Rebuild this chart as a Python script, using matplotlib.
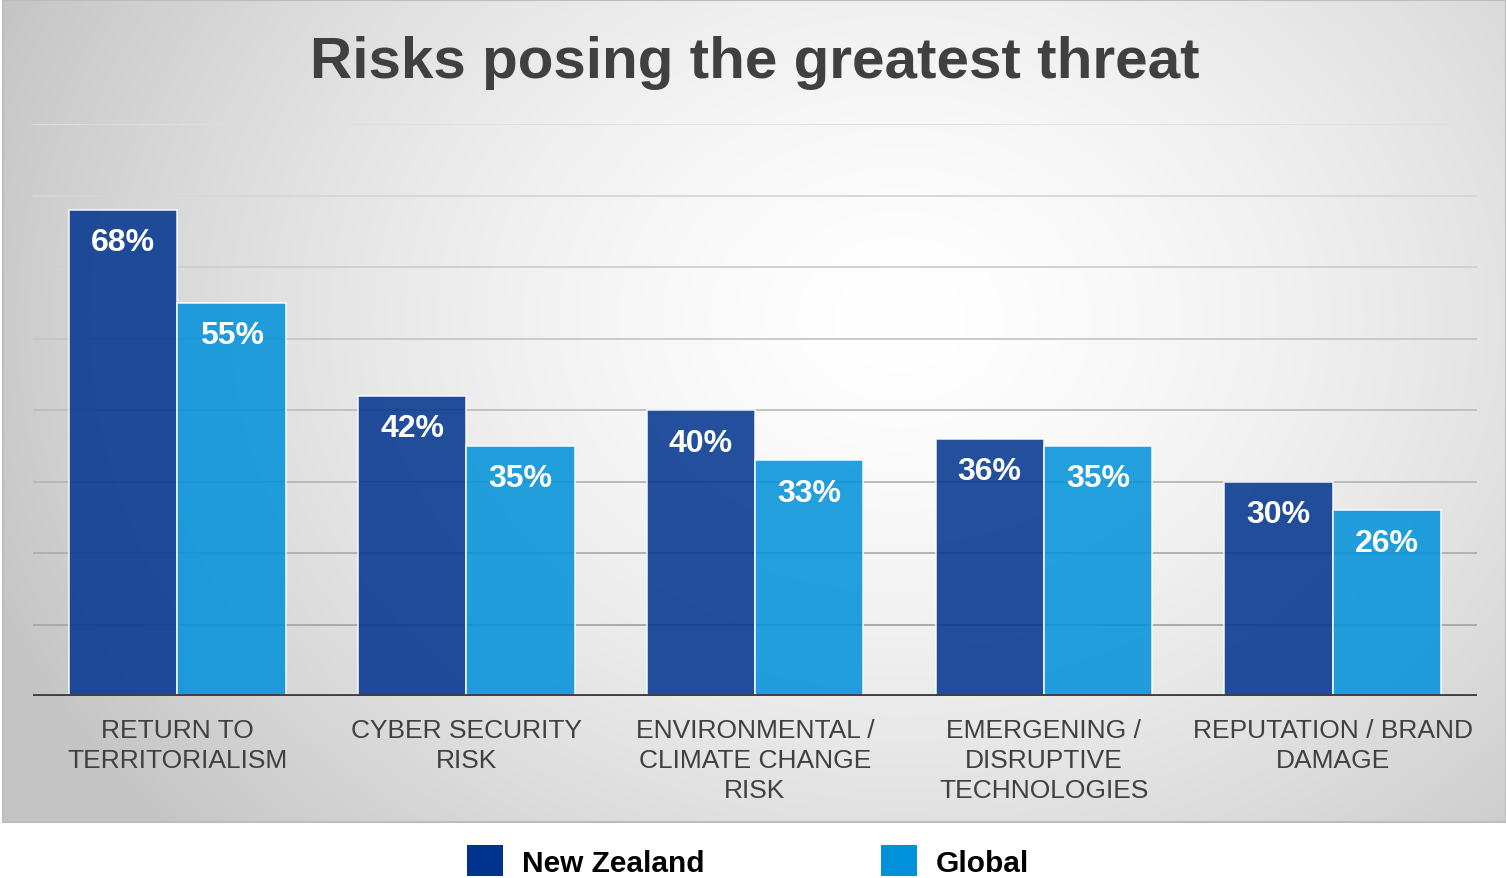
import matplotlib
matplotlib.use("Agg")
import matplotlib.pyplot as plt
import numpy as np
from matplotlib.patches import Patch, Rectangle

# ── Data ──
categories = [
    "RETURN TO\nTERRITORIALISM",
    "CYBER SECURITY\nRISK",
    "ENVIRONMENTAL /\nCLIMATE CHANGE\nRISK",
    "EMERGENING /\nDISRUPTIVE\nTECHNOLOGIES",
    "REPUTATION / BRAND\nDAMAGE",
]
nz_values = [68, 42, 40, 36, 30]
global_values = [55, 35, 33, 35, 26]
series_names = ["New Zealand", "Global"]
y_ticks = [0, 10, 20, 30, 40, 50, 60, 70, 80]

# ── Style ──
NZ_BLUE = "#00338d"
GLOBAL_BLUE = "#0091da"
DARK_TEXT = "#404040"
FONT = "Liberation Sans"

W, H = 1506, 879
fig = plt.figure(figsize=(W / 100, H / 100), dpi=100)
fig.patch.set_facecolor("white")

# gradient panel behind the chart
bg = fig.add_axes([0, 0, 1, 1], zorder=-1)
bg.set_xlim(0, W)
bg.set_ylim(H, 0)
bg.axis("off")
xs = np.arange(3, W)
ys = np.arange(0, 823)
gx, gy = np.meshgrid(xs, ys)
r = np.sqrt(((gx - 900) / 750.0) ** 2 + ((gy - 320) / 600.0) ** 2)
shade = 255 - 58 * np.clip(r / 1.3, 0, 1) ** 1.5
img = np.dstack([shade, shade, shade]).astype(np.uint8)
bg.imshow(img, extent=(3, W, 823, 0), aspect="auto", interpolation="bilinear")
bg.add_patch(Rectangle((3, 0.5), W - 3, 822.5, fill=False, edgecolor="#bdbdbd", linewidth=1.5))

# main axes
left, right, top, bottom = 33, 1477, 125, 697
ax = fig.add_axes([left / W, 1 - bottom / H, (right - left) / W, (bottom - top) / H])
ax.set_facecolor("none")

x = np.arange(len(categories))
bw = 0.375
bars_nz = ax.bar(x - bw / 2, nz_values, bw, color=NZ_BLUE, alpha=0.86,
                 edgecolor=(1, 1, 1, 0.3), linewidth=1.2, zorder=3)
bars_gl = ax.bar(x + bw / 2, global_values, bw, color=GLOBAL_BLUE, alpha=0.86,
                 edgecolor=(1, 1, 1, 0.3), linewidth=1.2, zorder=3)

for bars, vals in [(bars_nz, nz_values), (bars_gl, global_values)]:
    for b, v in zip(bars, vals):
        ax.annotate(f"{v}%", (b.get_x() + b.get_width() / 2, v),
                    xytext=(0, -23.5), textcoords="offset points",
                    ha="center", va="center", fontsize=23, fontweight="bold",
                    color="white", family=FONT, zorder=4)

ax.set_xlim(-0.5, len(categories) - 0.5)
ax.set_ylim(0, 80)
# gridlines: lighter at the top, darker lower down
for t in y_ticks[1:]:
    shade_g = 0.62 + 0.25 * (t / 80)
    ax.axhline(t, color=(shade_g, shade_g, shade_g), linewidth=1.3, zorder=1)
ax.axhline(0, color=DARK_TEXT, linewidth=3.5, zorder=5)

for s in ax.spines.values():
    s.set_visible(False)
ax.set_yticks([])
ax.set_xticks(x)
ax.set_xticklabels(categories, fontsize=19, color=DARK_TEXT, family=FONT,
                   linespacing=1.3)
ax.tick_params(axis="x", length=0, pad=16)

fig.text(755 / W, 1 - 78 / H, "Risks posing the greatest threat", ha="center", va="baseline",
         fontsize=42, fontweight="bold", color=DARK_TEXT, family=FONT)

handles = [Patch(facecolor=NZ_BLUE, edgecolor="none"),
           Patch(facecolor=GLOBAL_BLUE, edgecolor="none")]
fig.legend(handles, series_names, loc="center", bbox_to_anchor=(748 / W, 1 - 862 / H),
           ncol=2, frameon=False, handlelength=1.2, handleheight=1.2,
           handletextpad=0.65, columnspacing=5.9, borderpad=0,
           prop={"family": FONT, "weight": "bold", "size": 21.5})

fig.savefig("out.png", dpi=100, facecolor="white")
